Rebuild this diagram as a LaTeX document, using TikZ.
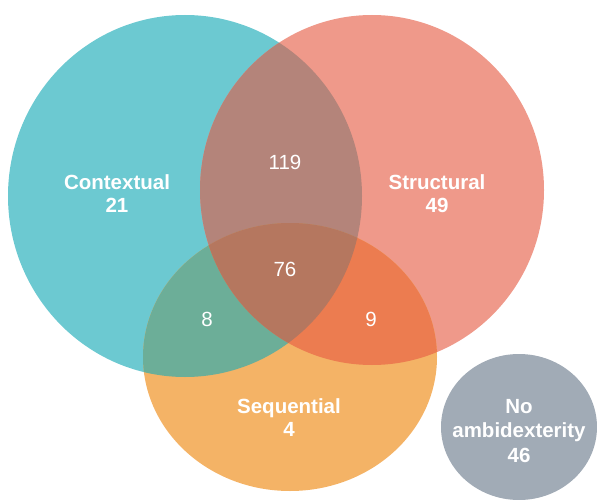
\documentclass[tikz,border=0pt]{standalone}
\usepackage{fontspec}
\setmainfont{Liberation Sans}
\definecolor{ctxcol}{HTML}{6CC9D1}
\definecolor{strcol}{HTML}{EF998A}
\definecolor{seqcol}{HTML}{F4B366}
\definecolor{noncol}{HTML}{A1ABB6}
\definecolor{ctxstr}{HTML}{B4847A}
\definecolor{ctxseq}{HTML}{6CAE98}
\definecolor{strseq}{HTML}{EC7C50}
\definecolor{allcol}{HTML}{B5775F}
\def\ctxset{(185,196) ellipse [x radius=177, y radius=181]}
\def\strset{(372,190) ellipse [x radius=172, y radius=175]}
\def\seqset{(290,357) ellipse [x radius=147, y radius=134]}
\begin{document}
\begin{tikzpicture}[x=1pt, y=-1pt,
    lbl/.style={text=white, font=\fontsize{20.5}{23}\selectfont\bfseries, align=center},
    num/.style={text=white, font=\fontsize{20.5}{23}\selectfont}]
    \useasboundingbox (0,0) rectangle (597,500);
    \clip (0,0) rectangle (597,500);
    \fill[ctxcol] \ctxset;
    \fill[strcol] \strset;
    \fill[seqcol] \seqset;
    \begin{scope}
        \clip \ctxset;
        \fill[ctxstr] \strset;
        \fill[ctxseq] \seqset;
    \end{scope}
    \begin{scope}
        \clip \strset;
        \fill[strseq] \seqset;
        \clip \ctxset;
        \fill[allcol] \seqset;
    \end{scope}
    \fill[noncol] (519,427) ellipse [x radius=78, y radius=73];
    \node[lbl] (ctx) at (117,194) {Contextual\\21};
    \node[lbl] (str) at (437,194) {Structural\\49};
    \node[lbl] (seq) at (289,418) {Sequential\\4};
    \node[lbl, font=\fontsize{20.5}{24.5}\selectfont\bfseries] (non) at (519,431) {No\\ambidexterity\\46};
    \node[num] (cs) at (285,162) {119};
    \node[num] (all) at (285,269) {76};
    \node[num] (cq) at (207,319) {8};
    \node[num] (sq) at (371,319) {9};
\end{tikzpicture}
\end{document}
